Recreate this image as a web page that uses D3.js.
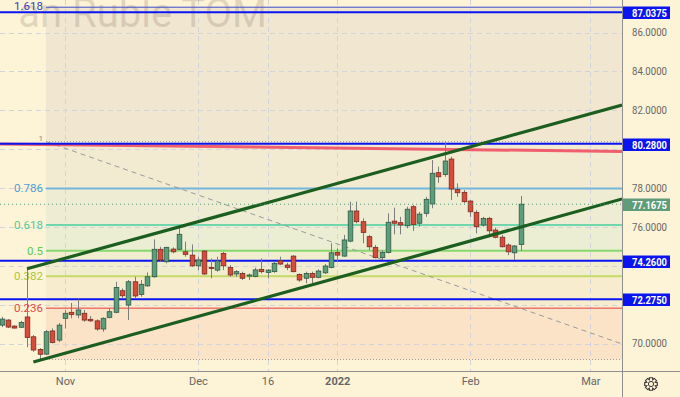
<!DOCTYPE html>
<html>
<head>
<meta charset="utf-8">
<script src="https://cdn.jsdelivr.net/npm/d3@7"></script>
<style>
  html, body { margin: 0; padding: 0; background: #fdf3d6; }
  svg { display: block; font-family: Roboto, "Open Sans", sans-serif; }
</style>
</head>
<body>
<svg id="chart" width="680" height="397"></svg>
<script>
// daily candles, 83 bars (index 0 = late Oct 2021)
const candleOpen = [70.95,71.21,70.90,70.84,71.37,70.35,69.70,69.46,70.65,70.18,
  71.30,71.61,71.47,71.56,71.25,71.17,70.75,71.35,71.61,72.72,
  71.98,73.18,72.53,72.97,73.44,74.85,74.21,74.86,74.85,74.72,
  74.55,74.00,74.76,73.91,73.78,74.64,73.92,73.58,73.61,73.47,
  73.45,73.82,73.66,73.70,74.26,74.04,74.50,73.56,73.36,73.61,
  73.41,73.64,73.92,74.69,74.50,75.27,76.82,76.27,75.50,74.95,
  74.42,74.69,76.30,76.22,76.06,77.04,76.19,76.70,77.18,78.79,
  78.70,79.49,77.93,77.78,77.33,76.75,76.10,76.44,75.84,75.47,
  75.07,74.67,75.10];
const candleHigh = [71.37,71.26,70.95,71.17,73.89,70.44,69.77,70.70,70.78,71.06,
  71.73,72.09,72.28,71.73,71.42,71.25,71.35,71.81,73.18,72.84,
  73.27,73.44,73.27,73.66,75.36,74.98,74.98,74.95,76.01,75.24,
  75.10,74.47,74.81,74.38,74.47,74.72,74.04,73.78,73.70,73.61,
  73.90,74.38,73.83,74.21,74.47,74.16,74.55,73.61,73.70,73.70,
  73.82,74.09,75.16,74.90,75.59,77.30,77.30,76.44,75.59,75.07,
  74.81,76.70,76.99,76.52,77.04,77.13,76.78,77.55,79.44,79.10,
  80.39,79.61,78.24,77.90,77.38,76.87,76.52,76.52,75.96,75.59,
  75.16,75.07,77.59];
const candleLow = [70.85,70.80,70.77,70.80,69.81,69.58,69.15,69.41,70.01,70.08,
  70.78,71.30,71.30,71.12,71.12,70.66,70.61,71.30,71.56,72.33,
  71.21,72.33,72.41,72.92,73.39,74.21,74.13,74.64,74.81,74.47,
  73.95,73.78,73.53,73.36,73.70,73.78,73.44,73.44,73.27,73.27,
  73.41,73.61,73.36,73.64,74.04,73.78,73.66,73.18,73.10,73.10,
  73.36,73.58,73.87,74.21,74.47,75.21,76.19,75.16,74.81,74.38,
  74.30,74.64,75.62,75.62,75.93,75.79,76.01,76.52,76.96,78.27,
  78.58,77.38,77.55,77.21,76.52,75.67,76.01,75.58,75.41,74.95,
  74.55,74.30,74.77];
const candleClose = [71.26,70.85,70.80,71.09,70.32,69.67,69.45,70.61,70.06,70.95,
  71.56,71.50,71.73,71.21,71.17,70.75,71.30,71.64,72.89,72.46,
  73.18,72.45,73.05,73.44,74.85,74.30,74.95,74.72,75.62,74.59,
  74.00,74.30,73.58,73.86,74.25,74.00,73.53,73.70,73.36,73.53,
  73.79,73.70,73.78,74.13,74.09,73.92,73.70,73.27,73.61,73.41,
  73.73,73.99,74.67,74.55,75.33,76.82,76.27,75.72,74.98,74.42,
  74.69,76.24,76.19,76.10,76.91,76.13,76.66,77.42,78.76,78.58,
  79.39,77.95,77.76,77.30,76.78,76.01,76.44,75.80,75.47,74.98,
  74.72,75.02,77.1675];

// time axis labels (bar index of first bar of the period)
const dateTickIndex = [10, 31, 42, 53, 74, 93];
const dateTickLabels = ["Nov", "Dec", "16", "2022", "Feb", "Mar"];

const priceTicks = [70, 72, 74, 76, 78, 80, 82, 84, 86];

// fibonacci retracement drawn from the 80.39 high down to 69.18
const fibHigh = 80.38, fibLow = 69.18, fibStartIndex = 7;
const fibRatios = [0, 0.236, 0.382, 0.5, 0.618, 0.786, 1, 1.618];
const fibLabels = ["", "0.236", "0.382", "0.5", "0.618", "0.786", "1", "1.618"];
const fibLineColors = ["#9a9a9a", "#e53b3b", "#c3d96a", "#86d86e", "#72d6ac", "#74b6dc", "#8a8a8a", "#3d4bd0"];
const fibTextColors = ["#9a9a9a", "#e24a4a", "#a9c640", "#5ccc4c", "#4fcc9a", "#4a9fd6", "#8a8a8a", "#3340b8"];
const fibZoneColors = ["#fbe3c8", "#f8ecce", "#f1eecf", "#ebeed2", "#eeecd3", "#f3ead2", "#f1e6d0"];
const fibDiagonal = [{ i: 7.1, p: 80.38 }, { i: 105, p: 69.18 }];

// horizontal levels with blue price tags
const blueLevels = [87.0375, 80.28, 74.26, 72.275];
const lastPrice = 77.1675;

// trend lines
const channelUpper = [{ i: 4, p: 73.85 }, { i: 98, p: 82.27 }];
const channelLower = [{ i: 5, p: 69.05 }, { i: 98, p: 77.44 }];
const redTrend = [{ i: -1, p: 80.27 }, { i: 98, p: 79.88 }];

const W = 680, H = 397, plotRight = 622, plotBottom = 371;
const svg = d3.select("#chart");

const x = d3.scaleLinear().domain([0, 98]).range([1.7, 1.7 + 6.33 * 98]);
const y = d3.scaleLinear().domain([70, 86]).range([343.6, 32.5]);

svg.append("rect").attr("width", W).attr("height", H).attr("fill", "#fdf3d6");

const defs = svg.append("defs");
defs.append("clipPath").attr("id", "plotClip")
  .append("rect").attr("width", plotRight).attr("height", plotBottom);

const plot = svg.append("g").attr("clip-path", "url(#plotClip)");

// fib zones
const fibPrice = r => fibLow + r * (fibHigh - fibLow);
plot.append("g").selectAll("rect")
  .data(fibRatios.slice(0, -1))
  .join("rect")
  .attr("x", x(fibStartIndex))
  .attr("width", plotRight - x(fibStartIndex))
  .attr("y", (d, k) => y(fibPrice(fibRatios[k + 1])))
  .attr("height", (d, k) => y(fibPrice(d)) - y(fibPrice(fibRatios[k + 1])))
  .attr("fill", (d, k) => fibZoneColors[k]);

// grid
const grid = plot.append("g").attr("stroke", "#d3d3dc").attr("stroke-dasharray", "5,4").attr("stroke-width", 1);
grid.selectAll(".v").data(dateTickIndex).join("line")
  .attr("x1", d => Math.round(x(d)) + 0.5).attr("x2", d => Math.round(x(d)) + 0.5)
  .attr("y1", 0).attr("y2", plotBottom);
grid.selectAll(".h").data(priceTicks).join("line")
  .attr("y1", d => Math.round(y(d)) + 0.5).attr("y2", d => Math.round(y(d)) + 0.5)
  .attr("x1", 0).attr("x2", plotRight);

// watermark (symbol description, cut by the top-left edge)
plot.append("text")
  .attr("x", 267).attr("y", 27)
  .attr("text-anchor", "end")
  .attr("font-size", 40)
  .attr("fill", "#7a6a58").attr("fill-opacity", 0.22)
  .text("an Ruble TOM");

// fib level lines + labels
fibRatios.forEach((r, k) => {
  const yy = y(fibPrice(r));
  const dotted = r === 0 || r === 1;
  plot.append("line")
    .attr("x1", x(fibStartIndex)).attr("x2", plotRight)
    .attr("y1", yy).attr("y2", yy)
    .attr("stroke", fibLineColors[k])
    .attr("stroke-width", dotted ? 1 : (r === 0.236 || r === 1.618 ? 1 : 2))
    .attr("stroke-dasharray", dotted ? "1,2" : null);
  if (fibLabels[k]) {
    plot.append("text")
      .attr("x", x(fibStartIndex) - 3).attr("y", yy)
      .attr("dy", r === 1 ? "-0.1em" : (r === 1.618 ? "0.2em" : "0.35em"))
      .attr("text-anchor", "end")
      .attr("font-size", r === 1 ? 8 : 11.5)
      .attr("fill", fibTextColors[k])
      .text(fibLabels[k]);
  }
});

// fib diagonal
plot.append("line")
  .attr("x1", x(fibDiagonal[0].i)).attr("y1", y(fibDiagonal[0].p))
  .attr("x2", x(fibDiagonal[1].i)).attr("y2", y(fibDiagonal[1].p))
  .attr("stroke", "#9a9a9a").attr("stroke-width", 1).attr("stroke-dasharray", "5,4");

// red trend line
const lineGen = d3.line().x(d => x(d.i)).y(d => y(d.p));
plot.append("path").datum(redTrend).attr("d", lineGen)
  .attr("stroke", "#f0455a").attr("stroke-opacity", 0.85).attr("stroke-width", 3).attr("fill", "none");

// blue levels
plot.append("g").selectAll("line").data(blueLevels).join("line")
  .attr("x1", 0).attr("x2", plotRight)
  .attr("y1", d => y(d)).attr("y2", d => y(d))
  .attr("stroke", "#0a14f0").attr("stroke-width", 2);

// candles
const candles = candleOpen.map((o, i) => ({ i, o, h: candleHigh[i], l: candleLow[i], c: candleClose[i] }));
const bodyW = 4.6;
const cg = plot.append("g");
cg.selectAll(".wick").data(candles).join("line")
  .attr("x1", d => Math.round(x(d.i)) + 0.5).attr("x2", d => Math.round(x(d.i)) + 0.5)
  .attr("y1", d => y(d.h)).attr("y2", d => y(d.l))
  .attr("stroke", "#7d7d7d").attr("stroke-width", 1);
cg.selectAll(".body").data(candles).join("rect")
  .attr("x", d => Math.round(x(d.i)) + 0.5 - bodyW / 2)
  .attr("y", d => y(Math.max(d.o, d.c)))
  .attr("width", bodyW)
  .attr("height", d => Math.max(1, Math.abs(y(d.o) - y(d.c))))
  .attr("fill", d => d.c >= d.o ? "#5c9e7c" : "#d84a3a")
  .attr("stroke", d => d.c >= d.o ? "#2d5a44" : "#7d2a1e")
  .attr("stroke-width", 0.8);

// green channel
[channelUpper, channelLower].forEach(ch => {
  plot.append("path").datum(ch).attr("d", lineGen)
    .attr("stroke", "#1c5e1f").attr("stroke-width", 3.2).attr("fill", "none");
});

// last price line
plot.append("line")
  .attr("x1", 0).attr("x2", plotRight)
  .attr("y1", y(lastPrice)).attr("y2", y(lastPrice))
  .attr("stroke", "#4f9a72").attr("stroke-width", 1).attr("stroke-dasharray", "1,3");

// axes (ticks hidden under the price tags are dropped)
const tagValues = blueLevels.concat([lastPrice]);
const visibleTicks = priceTicks.filter(t => tagValues.every(v => Math.abs(y(t) - y(v)) > 12));
const yAxis = svg.append("g")
  .attr("transform", `translate(${plotRight},0)`)
  .call(d3.axisRight(y).tickValues(visibleTicks).tickSize(0).tickPadding(10).tickFormat(d => d.toFixed(4)));
yAxis.select(".domain").remove();
yAxis.selectAll("text").attr("font-size", 10.5).attr("fill", "#666").attr("font-family", "Roboto, sans-serif")
  .attr("textLength", 35).attr("lengthAdjust", "spacingAndGlyphs");

const xAxis = svg.append("g")
  .attr("transform", `translate(0,${plotBottom})`)
  .call(d3.axisBottom(x).tickValues(dateTickIndex).tickSize(0).tickPadding(6)
    .tickFormat((d, k) => dateTickLabels[k]));
xAxis.select(".domain").remove();
xAxis.selectAll("text").attr("font-size", 11).attr("fill", "#666").attr("font-family", "Roboto, sans-serif")
  .attr("font-weight", (d, k) => dateTickLabels[k] === "2022" ? "bold" : null);

svg.append("line").attr("x1", plotRight + 0.5).attr("x2", plotRight + 0.5).attr("y1", 0).attr("y2", H)
  .attr("stroke", "#8f8f8f").attr("stroke-width", 1);
svg.append("line").attr("x1", 0).attr("x2", W).attr("y1", plotBottom + 0.5).attr("y2", plotBottom + 0.5)
  .attr("stroke", "#8f8f8f").attr("stroke-width", 1);

// price tags
const tags = blueLevels.map(v => ({ v, bg: "#0a14f0" })).concat([{ v: lastPrice, bg: "#5f9c7a" }]);
const tagG = svg.append("g").selectAll("g").data(tags).join("g")
  .attr("transform", d => `translate(${plotRight + 1},${Math.round(y(d.v))})`);
tagG.append("rect").attr("x", 0).attr("y", -5.5).attr("width", 47).attr("height", 12.5)
  .attr("fill", d => d.bg);
tagG.append("text").attr("x", 9).attr("y", 0.75).attr("dy", "0.36em")
  .attr("font-size", 10.5).attr("font-weight", "bold").attr("fill", "#fff")
  .attr("font-family", "Roboto, sans-serif")
  .attr("textLength", 35).attr("lengthAdjust", "spacingAndGlyphs")
  .text(d => d.v.toFixed(4));

// settings icon
const gear = svg.append("g").attr("transform", "translate(651,384)");
const teeth = d3.range(8).map(k => k * Math.PI / 4);
const gearPts = [];
teeth.forEach(a => {
  gearPts.push([Math.cos(a - 0.25) * 6.5, Math.sin(a - 0.25) * 6.5]);
  gearPts.push([Math.cos(a + 0.25) * 6.5, Math.sin(a + 0.25) * 6.5]);
  gearPts.push([Math.cos(a + Math.PI / 8) * 4.6, Math.sin(a + Math.PI / 8) * 4.6]);
});
gear.append("path").attr("d", "M" + gearPts.join("L") + "Z")
  .attr("fill", "none").attr("stroke", "#333").attr("stroke-width", 1.1);
gear.append("circle").attr("r", 2.6).attr("fill", "none").attr("stroke", "#333").attr("stroke-width", 1);
</script>
</body>
</html>
